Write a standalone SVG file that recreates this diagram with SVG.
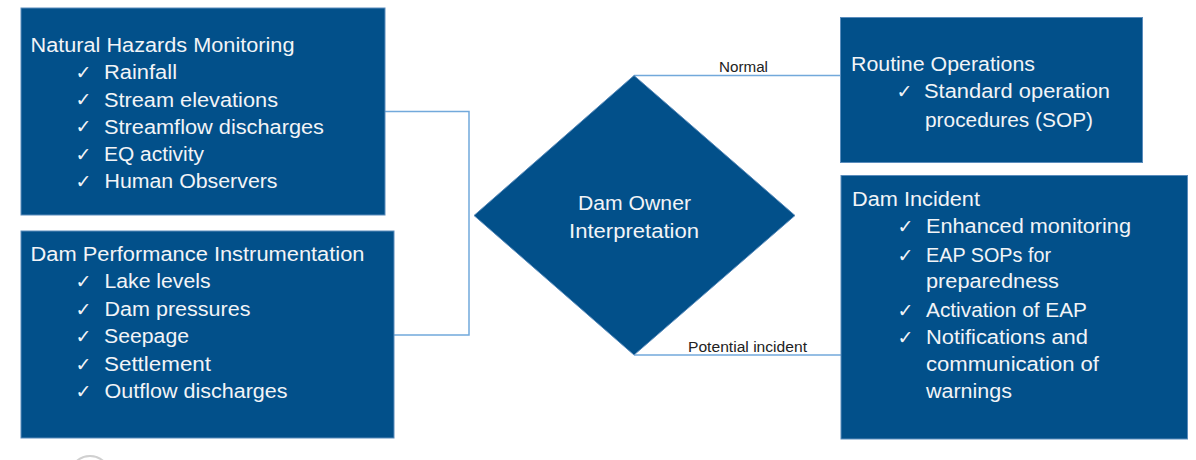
<svg xmlns="http://www.w3.org/2000/svg" width="1196" height="460" viewBox="0 0 1196 460">
  <style>
    .box { fill: #02508A; stroke: #5A8CBC; stroke-width: 1; }
    .t { font-family: "Liberation Sans", Arial, sans-serif; font-size: 20px; fill: #F2F4F7; }
    .chk { font-family: "DejaVu Sans", sans-serif; font-size: 19px; fill: #F2F4F7; }
    .lbl { font-family: "Liberation Sans", Arial, sans-serif; font-size: 14px; fill: #222222; }
    .conn { fill: none; stroke: #72A9DB; stroke-width: 1.5; }
  </style>

  <!-- connectors -->
  <g id="connectors">
    <polyline class="conn" points="385,111.5 469,111.5 469,335 394,335"/>
    <line class="conn" x1="634" y1="75.5" x2="840" y2="75.5"/>
    <line class="conn" x1="634" y1="355" x2="841" y2="355"/>
    <text class="lbl" x="719" y="71.5" textLength="49" lengthAdjust="spacingAndGlyphs">Normal</text>
    <text class="lbl" x="688" y="352" textLength="119" lengthAdjust="spacingAndGlyphs">Potential incident</text>
  </g>

  <!-- natural hazards monitoring -->
  <g id="node-hazards">
    <rect class="box" x="21" y="8" width="364" height="207"/>
    <text class="t" x="30.5" y="51.7" textLength="264" lengthAdjust="spacingAndGlyphs">Natural Hazards Monitoring</text>
    <text class="chk" x="75.5" y="78.5">✓</text>
    <text class="t" x="104" y="79" textLength="73" lengthAdjust="spacingAndGlyphs">Rainfall</text>
    <text class="chk" x="75.5" y="106">✓</text>
    <text class="t" x="104" y="106.5" textLength="174" lengthAdjust="spacingAndGlyphs">Stream elevations</text>
    <text class="chk" x="75.5" y="133">✓</text>
    <text class="t" x="104" y="133.5" textLength="220" lengthAdjust="spacingAndGlyphs">Streamflow discharges</text>
    <text class="chk" x="75.5" y="160.5">✓</text>
    <text class="t" x="104" y="160.7" textLength="100" lengthAdjust="spacingAndGlyphs">EQ activity</text>
    <text class="chk" x="75.5" y="188">✓</text>
    <text class="t" x="104.5" y="188.3" textLength="173" lengthAdjust="spacingAndGlyphs">Human Observers</text>
  </g>

  <!-- dam performance instrumentation -->
  <g id="node-instrumentation">
    <rect class="box" x="21" y="231" width="373" height="207"/>
    <text class="t" x="30.5" y="261" textLength="334" lengthAdjust="spacingAndGlyphs">Dam Performance Instrumentation</text>
    <text class="chk" x="75.5" y="288">✓</text>
    <text class="t" x="104.5" y="288.3" textLength="106" lengthAdjust="spacingAndGlyphs">Lake levels</text>
    <text class="chk" x="75.5" y="315.5">✓</text>
    <text class="t" x="104.5" y="315.7" textLength="146" lengthAdjust="spacingAndGlyphs">Dam pressures</text>
    <text class="chk" x="75.5" y="343">✓</text>
    <text class="t" x="104" y="343.3" textLength="85" lengthAdjust="spacingAndGlyphs">Seepage</text>
    <text class="chk" x="75.5" y="370.5">✓</text>
    <text class="t" x="104" y="371" textLength="107" lengthAdjust="spacingAndGlyphs">Settlement</text>
    <text class="chk" x="75.5" y="398">✓</text>
    <text class="t" x="104.5" y="398.3" textLength="183" lengthAdjust="spacingAndGlyphs">Outflow discharges</text>
  </g>

  <!-- decision diamond -->
  <g id="node-interpretation">
    <polygon class="box" points="634,75.5 795,215.5 634,355 474,215.5" stroke="none"/>
    <text class="t" x="578" y="210" textLength="113" lengthAdjust="spacingAndGlyphs">Dam Owner</text>
    <text class="t" x="569" y="238.3" textLength="130" lengthAdjust="spacingAndGlyphs">Interpretation</text>
  </g>

  <!-- routine operations -->
  <g id="node-routine">
    <rect class="box" x="840.5" y="17.5" width="302" height="145"/>
    <text class="t" x="851" y="71" textLength="184" lengthAdjust="spacingAndGlyphs">Routine Operations</text>
    <text class="chk" x="896.5" y="98">✓</text>
    <text class="t" x="924" y="98.3" textLength="186" lengthAdjust="spacingAndGlyphs">Standard operation</text>
    <text class="t" x="925" y="126.7" textLength="168" lengthAdjust="spacingAndGlyphs">procedures (SOP)</text>
  </g>

  <!-- dam incident -->
  <g id="node-incident">
    <rect class="box" x="841" y="175.5" width="346.5" height="263.5"/>
    <text class="t" x="852" y="205.7" textLength="128" lengthAdjust="spacingAndGlyphs">Dam Incident</text>
    <text class="chk" x="897.5" y="233">✓</text>
    <text class="t" x="926" y="233.3" textLength="205" lengthAdjust="spacingAndGlyphs">Enhanced monitoring</text>
    <text class="chk" x="897.5" y="261.5">✓</text>
    <text class="t" x="926" y="261.7" textLength="125" lengthAdjust="spacingAndGlyphs">EAP SOPs for</text>
    <text class="t" x="926" y="288.3" textLength="133" lengthAdjust="spacingAndGlyphs">preparedness</text>
    <text class="chk" x="897.5" y="316.5">✓</text>
    <text class="t" x="926" y="316.7" textLength="161" lengthAdjust="spacingAndGlyphs">Activation of EAP</text>
    <text class="chk" x="897.5" y="343.5">✓</text>
    <text class="t" x="926" y="344" textLength="162" lengthAdjust="spacingAndGlyphs">Notifications and</text>
    <text class="t" x="926" y="371" textLength="173" lengthAdjust="spacingAndGlyphs">communication of</text>
    <text class="t" x="926" y="398.3" textLength="86" lengthAdjust="spacingAndGlyphs">warnings</text>
  </g>

  <!-- faint emblem edge at the lower margin -->
  <circle cx="90" cy="476" r="20" fill="none" stroke="#D0D0D0" stroke-width="2"/>
</svg>
